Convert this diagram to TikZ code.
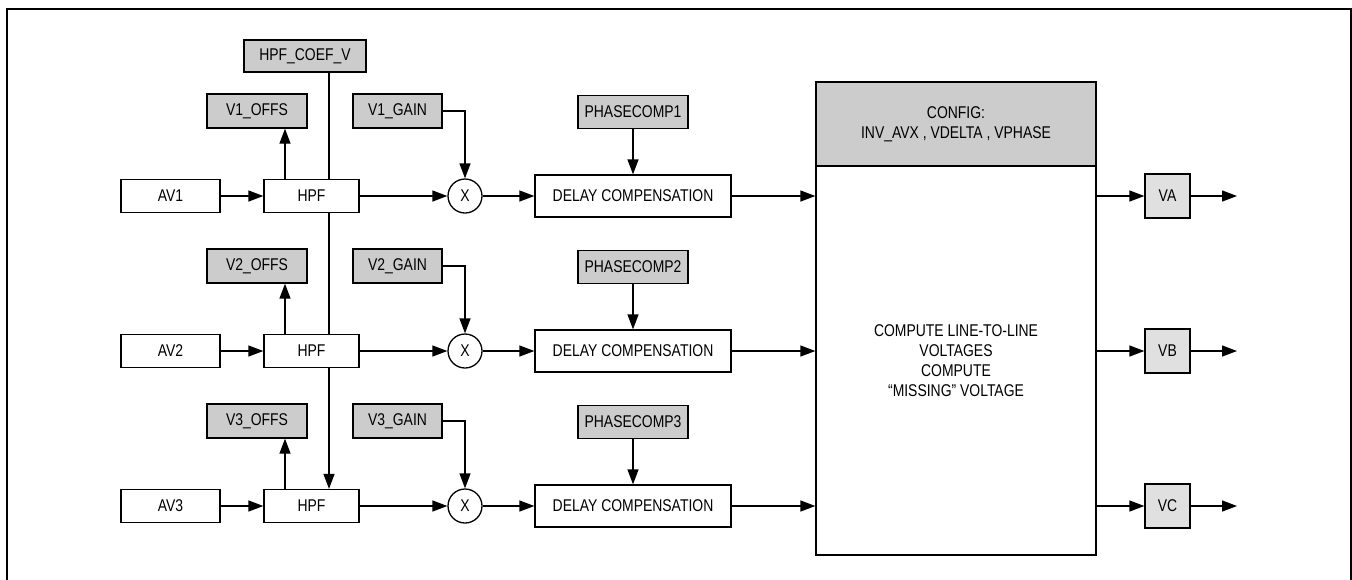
\documentclass[tikz,border=0pt]{standalone}
\usepackage{fontspec}
\setmainfont{Liberation Sans}[FakeStretch=0.82]
\usetikzlibrary{arrows.meta}
\definecolor{boxgray}{gray}{0.8}
\definecolor{outgray}{gray}{0.88}
\begin{document}
\begin{tikzpicture}[x=0.5pt,y=-0.5pt,
  font=\fontsize{8.5}{10}\selectfont, line width=0.65pt,
  blk/.style={draw, fill=white, inner sep=0pt, minimum height=16.5pt},
  parbox/.style={draw, fill=boxgray, inner sep=0pt, minimum height=17pt},
  outb/.style={draw, fill=outgray, inner sep=0pt, minimum width=22.5pt, minimum height=22pt},
  mult/.style={draw, circle, fill=white, inner sep=0pt, minimum size=17pt},
  arr/.style={-{Triangle[length=7.5pt,width=5.5pt]}}]
\useasboundingbox (0,0) rectangle (1352,579);
\draw[line width=1.1pt] (7,9) rectangle (1351,600);

\node[parbox, minimum width=61pt, minimum height=16pt] (coef) at (305,56) {HPF\_COEF\_V};
\coordinate (cx) at ([xshift=12pt]coef.south);

\foreach \i/\y in {1/196,2/351,3/506}{
  \node[blk, minimum width=49.5pt] (av\i) at (170.5,\y) {AV\i};
  \node[blk, minimum width=47.5pt] (hpf\i) at (311.5,\y) {HPF};
  \node[parbox, minimum width=50pt] (offs\i) at (257,\y-85) {V\i\_OFFS};
  \node[parbox, minimum width=44.5pt] (gain\i) at (397.5,\y-85) {V\i\_GAIN};
  \node[mult] (x\i) at (465,\y) {X};
  \node[blk, minimum width=98pt, minimum height=21pt] (dc\i) at (633,\y) {DELAY COMPENSATION};
  \node[parbox, minimum width=55pt, minimum height=16.5pt] (pc\i) at (633,\y-84) {PHASECOMP\i};
}

\node[draw, fill=boxgray, inner sep=0pt, minimum width=140pt, minimum height=42pt, align=center] (cfg) at (956,124)
  {CONFIG:\\INV\_AVX , VDELTA , VPHASE};
\node[draw, fill=white, inner sep=0pt, minimum width=140pt, minimum height=194.5pt, align=center] (comp) at (956,360.5)
  {COMPUTE LINE-TO-LINE\\VOLTAGES\\COMPUTE\\“MISSING” VOLTAGE};

\node[outb] (va) at (1167.5,196) {VA};
\node[outb] (vb) at (1167.5,351) {VB};
\node[outb] (vc) at (1167.5,506) {VC};
\coordinate (oa) at (1237,196);
\coordinate (ob) at (1237,351);
\coordinate (oc) at (1237,506);

\foreach \i in {1,2,3}{
  \draw[arr] (av\i) -- (hpf\i);
  \draw[arr] (hpf\i) -- (x\i);
  \draw[arr] (x\i) -- (dc\i);
  \draw[arr] (gain\i.east) -| (x\i.north);
  \draw[arr] (pc\i) -- (dc\i);
  \draw[arr] ([xshift=-13.25pt]hpf\i.north) -- ([xshift=-13.25pt]hpf\i.north |- offs\i.south);
  \draw[arr] (dc\i.east) -- (dc\i.east -| comp.west);
}
\draw (cx) -- (cx |- hpf1.north);
\draw (cx |- hpf1.south) -- (cx |- hpf2.north);
\draw[arr] (cx |- hpf2.south) -- (cx |- hpf3.north);

\draw[arr] (va.west -| comp.east) -- (va.west);
\draw[arr] (vb.west -| comp.east) -- (vb.west);
\draw[arr] (vc.west -| comp.east) -- (vc.west);
\draw[arr] (va.east) -- (oa);
\draw[arr] (vb.east) -- (ob);
\draw[arr] (vc.east) -- (oc);
\end{tikzpicture}
\end{document}
